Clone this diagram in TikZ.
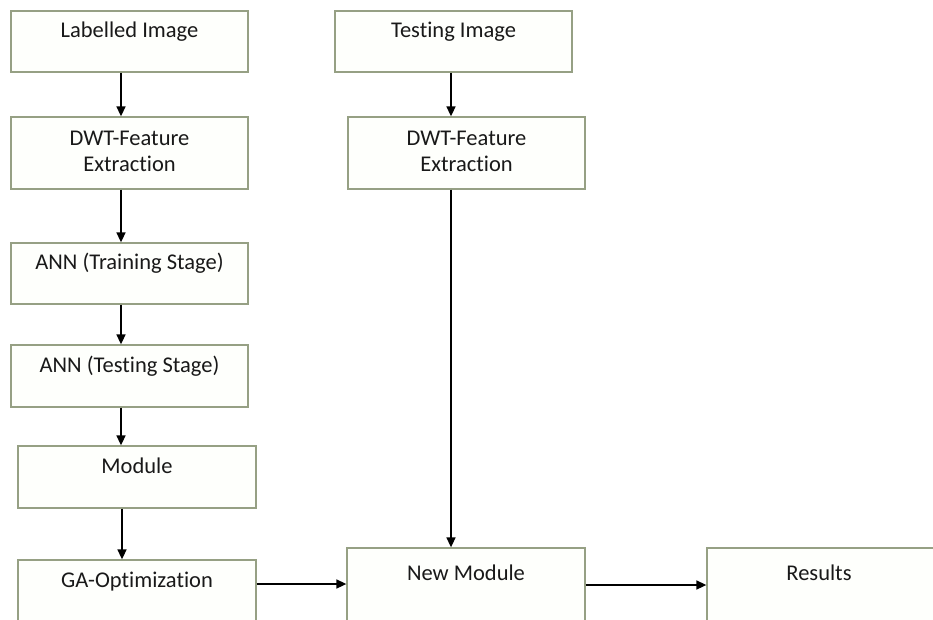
\documentclass[tikz,border=0pt]{standalone}
\usepackage{fontspec}
\setmainfont{Carlito}[Ligatures=NoCommon]
\usetikzlibrary{arrows.meta}
\definecolor{boxline}{RGB}{150,160,132}
\definecolor{boxfill}{RGB}{254,255,252}
\definecolor{txtcol}{RGB}{25,25,25}
\begin{document}
\begin{tikzpicture}[x=1pt,y=-1pt,
  box/.style={draw=boxline, fill=boxfill, line width=1.3pt, rectangle, inner sep=0pt},
  lbl/.style={anchor=base, text=txtcol, inner sep=0pt, font=\fontsize{22.5}{26}\selectfont, align=center},
  arr/.style={draw=black, line width=1.6pt, -{Triangle[length=10pt,width=9pt]}}]
\useasboundingbox[fill=white] (0,0) rectangle (933,620);
\clip (0,0) rectangle (933,620);
% left column
\node[box, minimum width=237pt, minimum height=61pt] (li) at (129.5,41.5) {};
\node[lbl] (liT) at ([yshift=-27pt]li.north) {Labelled Image};
\node[box, minimum width=237pt, minimum height=72pt] (dl) at (129.5,153) {};
\node[lbl, anchor=north] (dlT) at ([yshift=-15pt]dl.north) {DWT-Feature\\Extraction};
\node[box, minimum width=237pt, minimum height=61pt] (at) at (129.5,273.5) {};
\node[lbl] (atT) at ([yshift=-27pt]at.north) {ANN (Training Stage)};
\node[box, minimum width=237pt, minimum height=62pt] (as) at (129.5,376) {};
\node[lbl] (asT) at ([yshift=-28pt]as.north) {ANN (Testing Stage)};
\node[box, minimum width=238pt, minimum height=62pt] (mo) at (137,477) {};
\node[lbl] (moT) at ([yshift=-28pt]mo.north) {Module};
\node[box, minimum width=238pt, minimum height=62pt] (ga) at (137,591) {};
\node[lbl] (gaT) at ([yshift=-28pt]ga.north) {GA-Optimization};
% right column
\node[box, minimum width=237pt, minimum height=61pt] (ti) at (453.5,41.5) {};
\node[lbl] (tiT) at ([yshift=-27pt]ti.north) {Testing Image};
\node[box, minimum width=237pt, minimum height=72pt] (dr) at (466.5,153) {};
\node[lbl, anchor=north] (drT) at ([yshift=-15pt]dr.north) {DWT-Feature\\Extraction};
\node[box, minimum width=238pt, minimum height=100pt] (nm) at (466,598) {};
\node[lbl] (nmT) at ([yshift=-33pt]nm.north) {New Module};
\node[box, minimum width=238pt, minimum height=100pt] (re) at (826,598) {};
\node[lbl] (reT) at ([xshift=-7pt,yshift=-33pt]re.north) {Results};
% connectors
\draw[arr] ([xshift=-8.5pt]li.south) -- ([xshift=-8.5pt]dl.north);
\draw[arr] ([xshift=-8.5pt]dl.south) -- ([xshift=-8.5pt]at.north);
\draw[arr] ([xshift=-8.5pt]at.south) -- ([xshift=-8.5pt]as.north);
\draw[arr] ([xshift=-8.5pt]as.south) -- ([xshift=-8.5pt]as.south |- mo.north);
\draw[arr] ([xshift=-15pt]mo.south) -- ([xshift=-15pt]ga.north);
\draw[arr] ([xshift=-2.5pt]ti.south) -- ([xshift=-2.5pt]ti.south |- dr.north);
\draw[arr] ([xshift=-15.5pt]dr.south) -- ([xshift=-15.5pt]dr.south |- nm.north);
\draw[arr] ([yshift=7pt]ga.east) -- ([yshift=7pt]ga.east -| nm.west);
\draw[arr] ([yshift=13pt]nm.east) -- ([yshift=13pt]nm.east -| re.west);
\end{tikzpicture}
\end{document}
